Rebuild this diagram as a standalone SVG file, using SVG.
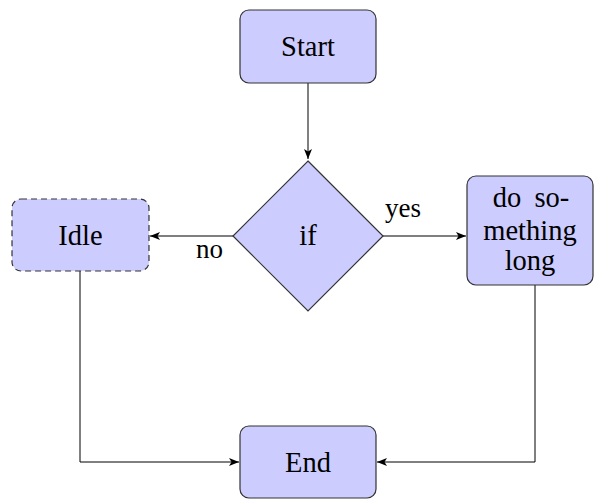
<svg xmlns="http://www.w3.org/2000/svg" width="595" height="500" viewBox="0 0 595 500">
<defs>
<style>
.node{fill:#ccccff;stroke:#333;stroke-width:1.2}
.dash{stroke-dasharray:6,4}
.t{font-family:"Liberation Serif","DejaVu Serif",serif;font-size:28.5px;fill:#000;text-anchor:middle}
.lbl{font-family:"Liberation Serif","DejaVu Serif",serif;font-size:27px;fill:#000}
.edge{fill:none;stroke:#000;stroke-width:1}
</style>
<marker id="arr" viewBox="0 0 10 8" refX="10" refY="4" markerWidth="10" markerHeight="8" markerUnits="userSpaceOnUse" orient="auto">
<path d="M0,0 L10,4 L0,8 L2.5,4 Z" fill="#000"/>
</marker>
</defs>
<g id="connectors">
<path class="edge" d="M308,83 L308,159" marker-end="url(#arr)"/>
<path class="edge" d="M233,236 L150,236" marker-end="url(#arr)"/>
<path class="edge" d="M383,236 L466,236" marker-end="url(#arr)"/>
<path class="edge" d="M80,271 L80,462 L239,462" marker-end="url(#arr)"/>
<path class="edge" d="M535,285 L535,462 L377,462" marker-end="url(#arr)"/>
<text class="lbl" x="196" y="258">no</text>
<text class="lbl" x="385" y="217">yes</text>
</g>
<g id="start">
<rect class="node" x="240" y="10" width="136" height="73" rx="9"/>
<text class="t" x="308" y="56">Start</text>
</g>
<g id="if">
<polygon class="node" points="308,161 383,236 308,311 233,236"/>
<text class="t" x="308" y="245">if</text>
</g>
<g id="idle">
<rect class="node dash" x="12" y="199" width="137" height="72" rx="9"/>
<text class="t" x="80.5" y="245">Idle</text>
</g>
<g id="long">
<rect class="node" x="467" y="176" width="126" height="109" rx="9"/>
<text class="t" x="531" y="207" word-spacing="6">do so-</text>
<text class="t" x="530" y="240">mething</text>
<text class="t" x="530" y="270">long</text>
</g>
<g id="end">
<rect class="node" x="240" y="426" width="136" height="72" rx="9"/>
<text class="t" x="308" y="472">End</text>
</g>
</svg>
